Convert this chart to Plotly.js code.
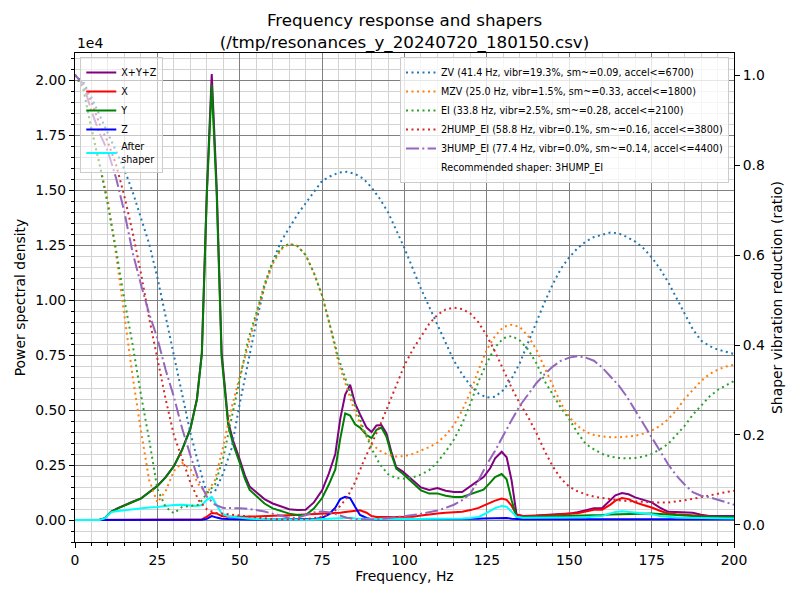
<!DOCTYPE html>
<html><head><meta charset="utf-8">
<script src="https://cdn.plot.ly/plotly-3.0.1.min.js"></script>
<style>body{margin:0;background:#fff}</style>
</head><body><div id="chart" style="width:800px;height:600px"></div>
<script>
// ---- PSD data (left axis) ----
const psdFreqs = [0,2.5,5,7.5, 9,11,13,15, 17.5,20,22.5,25, 27.5,30,32.5,35, 37,38.5,40,41.5, 43,44.5,46.5,48, 50,51.5,53,55, 57.5,60,62.5,65, 67.5,70,72.5,75, 77,79,80.5,82, 83.5,85,86.5,88.5, 90,91.5,93,94.5, 96,97.5,99.5,102.5, 105,107.5,110,112.5, 115,117.5,120,122.5, 124,126,127.5,129.5, 131,132.5,134,136, 140,145,150,152.5, 155,157.5,160,162.5, 164,166,168,170, 172.5,175,177.5,180, 182.5,185,187.5,190, 192.5,195,197.5,200];
const psdSum = [0,0,0,10, 80,380,540,680, 830,980,1250,1550, 1950,2450,3200,4150, 5500,7600,14900,20270, 15150,7600,4450,3600, 2750,2050,1520,1250, 950,750,620,490, 460,470,800,1350, 2100,3000,4600,5700, 6150,5300,4800,4200, 4000,4300,4320,3950, 3100,2400,2200,1820, 1480,1370,1450,1330, 1270,1270,1550,1800, 1950,2350,2800,3100, 2850,1800,250,180, 200,240,290,350, 440,530,550,900, 1120,1230,1170,1030, 920,800,560,370, 360,360,330,240, 180,180,180,180];
const psdX = [0,0,0,0, 2,5,6,6, 6,6,7,8, 8,8,8,10, 15,30,150,320, 300,180,150,140, 140,150,155,160, 175,190,200,220, 235,260,275,290, 300,320,335,360, 380,420,440,330, 180,140,140,140, 140,140,140,145, 200,260,300,330, 350,380,450,550, 650,800,880,980, 920,650,230,170, 190,230,280,310, 380,470,470,700, 880,1000,950,800, 680,570,420,300, 260,235,210,180, 150,140,140,140];
const psdY = [0,0,0,10, 75,370,530,670, 820,970,1240,1540, 1940,2440,3190,4130, 5470,7560,14750,19800, 14800,7400,4300,3450, 2600,1900,1370,1080, 750,530,400,290, 230,230,520,1000, 1600,2300,3700,4850, 4750,4350,4200,3860, 3720,4100,4200,3800, 3000,2330,2100,1700, 1350,1200,1210,1100, 1050,1050,1180,1300, 1380,1700,1950,2090, 1850,900,150,140, 150,160,180,190, 210,220,230,250, 260,270,280,290, 300,300,270,240, 210,190,180,160, 150,140,140,140];
const psdZ = [0,0,0,0, 2,3,3,3, 3,3,3,3, 3,3,3,3, 5,10,50,180, 110,60,40,30, 25,20,20,20, 20,20,20,20, 25,30,40,100, 250,560,950,1060, 1000,600,230,90, 40,30,30,30, 30,30,30,30, 30,40,40,40, 40,40,50,60, 70,80,90,100, 90,60,40,30, 30,30,30,30, 30,30,30,30, 30,30,30,30, 30,30,30,30, 30,30,30,30, 30,30,30,30];
const psdAfter = [0,0,0,5, 70,360,410,450, 500,545,570,590, 640,680,690,650, 640,680,920,1050, 640,300,170,140, 110,80,60,50, 40,30,20,15, 10,10,20,40, 60,80,100,110, 100,70,60,50, 48,50,55,60, 50,45,45,40, 40,45,50,55, 60,70,90,140, 250,420,540,640, 600,380,150,100, 100,100,110,120, 130,160,180,300, 360,400,370,320, 290,260,180,140, 110,100,90,80, 70,70,70,70];

// ---- Shaper responses (right axis) ----
const shaperFreqs = [0,2.5,5,7.5,10,12.5,15,17.5,20,22.5,25,27.5,30,32.5,35,37.5,40,42.5,45,47.5,50,52.5,55,57.5,60,62.5,65,67.5,70,72.5,75,77.5,80,82.5,85,87.5,90,92.5,95,97.5,100,102.5,105,107.5,110,112.5,115,117.5,120,122.5,125,127.5,130,132.5,135,137.5,140,142.5,145,147.5,150,152.5,155,157.5,160,162.5,165,167.5,170,172.5,175,177.5,180,182.5,185,187.5,190,192.5,195,197.5,200];
const zvVals = [1.0,0.985,0.95,0.91,0.87,0.83,0.79,0.74,0.685,0.625,0.55,0.465,0.375,0.29,0.205,0.135,0.07,0.075,0.115,0.17,0.27,0.36,0.45,0.53,0.585,0.63,0.66,0.69,0.715,0.74,0.765,0.775,0.783,0.785,0.78,0.77,0.75,0.725,0.695,0.655,0.615,0.57,0.525,0.485,0.445,0.405,0.365,0.335,0.31,0.292,0.283,0.285,0.3,0.325,0.36,0.405,0.45,0.495,0.535,0.57,0.595,0.615,0.63,0.64,0.645,0.65,0.648,0.64,0.63,0.615,0.595,0.57,0.54,0.505,0.47,0.435,0.41,0.398,0.39,0.385,0.38];
const mzvVals = [1.0,0.97,0.88,0.8,0.72,0.6,0.46,0.33,0.21,0.1,0.05,0.075,0.12,0.138,0.125,0.09,0.07,0.1,0.175,0.26,0.33,0.4,0.465,0.53,0.58,0.612,0.625,0.62,0.6,0.56,0.51,0.44,0.36,0.305,0.25,0.21,0.18,0.165,0.156,0.152,0.153,0.158,0.165,0.173,0.183,0.2,0.222,0.255,0.295,0.345,0.39,0.42,0.44,0.445,0.44,0.42,0.39,0.35,0.31,0.27,0.24,0.22,0.207,0.2,0.197,0.195,0.195,0.196,0.198,0.203,0.21,0.22,0.235,0.255,0.28,0.3,0.32,0.335,0.345,0.352,0.356];
const eiVals = [1.0,0.97,0.88,0.8,0.71,0.61,0.5,0.4,0.29,0.19,0.08,0.04,0.026,0.04,0.042,0.045,0.07,0.09,0.15,0.235,0.32,0.41,0.47,0.535,0.585,0.615,0.625,0.62,0.6,0.56,0.51,0.44,0.37,0.316,0.265,0.215,0.17,0.135,0.113,0.104,0.103,0.106,0.112,0.122,0.14,0.163,0.19,0.225,0.27,0.32,0.36,0.395,0.415,0.42,0.41,0.39,0.36,0.32,0.29,0.26,0.235,0.205,0.18,0.168,0.158,0.152,0.149,0.148,0.149,0.152,0.158,0.168,0.18,0.2,0.22,0.245,0.265,0.285,0.3,0.31,0.32];
const hump2Vals = [1.0,0.98,0.94,0.89,0.85,0.8,0.73,0.65,0.56,0.46,0.37,0.28,0.2,0.145,0.095,0.055,0.035,0.027,0.025,0.022,0.02,0.018,0.016,0.014,0.013,0.012,0.012,0.012,0.013,0.015,0.018,0.025,0.038,0.06,0.095,0.14,0.18,0.22,0.265,0.31,0.355,0.39,0.42,0.447,0.467,0.479,0.483,0.48,0.47,0.45,0.42,0.385,0.345,0.305,0.27,0.24,0.205,0.165,0.13,0.103,0.085,0.075,0.068,0.063,0.06,0.057,0.055,0.053,0.052,0.051,0.05,0.05,0.05,0.052,0.055,0.058,0.062,0.066,0.07,0.073,0.076];
const hump3Vals = [1.0,0.98,0.92,0.87,0.83,0.77,0.695,0.605,0.535,0.47,0.415,0.345,0.285,0.215,0.155,0.1,0.063,0.045,0.038,0.038,0.037,0.036,0.033,0.03,0.025,0.02,0.016,0.016,0.022,0.028,0.03,0.028,0.022,0.016,0.013,0.012,0.012,0.013,0.015,0.017,0.02,0.022,0.025,0.028,0.032,0.038,0.045,0.055,0.07,0.1,0.135,0.165,0.2,0.233,0.265,0.29,0.315,0.335,0.352,0.365,0.372,0.375,0.372,0.365,0.35,0.33,0.31,0.285,0.255,0.225,0.195,0.165,0.135,0.11,0.09,0.073,0.065,0.062,0.056,0.05,0.045];

const shaperNames = ['ZV (41.4 Hz, vibr=19.3%, sm~=0.09, accel<=6700)','MZV (25.0 Hz, vibr=1.5%, sm~=0.33, accel<=1800)','EI (33.8 Hz, vibr=2.5%, sm~=0.28, accel<=2100)','2HUMP_EI (58.8 Hz, vibr=0.1%, sm~=0.16, accel<=3800)','3HUMP_EI (77.4 Hz, vibr=0.0%, sm~=0.14, accel<=4400)'];
const recommendedText = 'Recommended shaper: 3HUMP_EI';
const yTickVals = [0,2500,5000,7500,10000,12500,15000,17500,20000];
const yTickText = ['0.00','0.25','0.50','0.75','1.00','1.25','1.50','1.75','2.00'];
const y2TickVals = [0,0.2,0.4,0.6,0.8,1.0];
const y2TickText = ['0.0','0.2','0.4','0.6','0.8','1.0'];
const xTickVals = [0,25,50,75,100,125,150,175,200];

const FONT = 'DejaVu Sans, sans-serif';
const dotted = '2px,3.5px';
const dashdot = '13px,3.3px,2px,3.3px';

const traces = [
  {x: psdFreqs, y: psdSum, name: 'X+Y+Z', mode: 'lines', line: {color: 'purple', width: 2}, legend: 'legend'},
  {x: psdFreqs, y: psdX, name: 'X', mode: 'lines', line: {color: 'red', width: 2}, legend: 'legend'},
  {x: psdFreqs, y: psdY, name: 'Y', mode: 'lines', line: {color: 'green', width: 2}, legend: 'legend'},
  {x: psdFreqs, y: psdZ, name: 'Z', mode: 'lines', line: {color: 'blue', width: 2}, legend: 'legend'},
  {x: psdFreqs, y: psdAfter, name: 'After<br>shaper', mode: 'lines', line: {color: 'cyan', width: 2}, legend: 'legend'},
  {x: shaperFreqs, y: zvVals, name: shaperNames[0], mode: 'lines', yaxis: 'y2', line: {color: '#1f77b4', width: 2, dash: dotted}, legend: 'legend2'},
  {x: shaperFreqs, y: mzvVals, name: shaperNames[1], mode: 'lines', yaxis: 'y2', line: {color: '#ff7f0e', width: 2, dash: dotted}, legend: 'legend2'},
  {x: shaperFreqs, y: eiVals, name: shaperNames[2], mode: 'lines', yaxis: 'y2', line: {color: '#2ca02c', width: 2, dash: dotted}, legend: 'legend2'},
  {x: shaperFreqs, y: hump2Vals, name: shaperNames[3], mode: 'lines', yaxis: 'y2', line: {color: '#d62728', width: 2, dash: dotted}, legend: 'legend2'},
  {x: shaperFreqs, y: hump3Vals, name: shaperNames[4], mode: 'lines', yaxis: 'y2', line: {color: '#9467bd', width: 2, dash: dashdot}, legend: 'legend2'},
  {x: [null], y: [null], name: recommendedText, mode: 'lines', yaxis: 'y2', line: {color: 'rgba(0,0,0,0)', width: 0}, legend: 'legend2'}
];

const layout = {
  width: 800, height: 600,
  paper_bgcolor: 'white', plot_bgcolor: 'white',
  margin: {l: 75, r: 66, t: 53, b: 58, pad: 0},
  font: {family: FONT, size: 13.9, color: 'black'},
  title: {text: 'Frequency response and shapers<br>(/tmp/resonances_y_20240720_180150.csv)', font: {family: FONT, size: 16.7, color: 'black'}, x: 0.5, xref: 'paper', y: 0.957, yref: 'container', yanchor: 'top'},
  showlegend: true,
  xaxis: {range: [0, 200], tickmode: 'array', tickvals: xTickVals, ticks: 'outside', ticklen: 5, tickwidth: 1, tickcolor: 'black',
    showgrid: true, gridcolor: '#808080', gridwidth: 1, zeroline: false, showline: true, linecolor: 'black', linewidth: 1, mirror: true,
    title: {text: 'Frequency, Hz', font: {size: 13.9}, standoff: 4},
    minor: {tickmode: 'linear', tick0: 0, dtick: 5, showgrid: true, gridcolor: '#d3d3d3', gridwidth: 1, ticks: 'outside', ticklen: 3, tickcolor: 'black'}},
  yaxis: {range: [-1000, 21230], tickmode: 'array', tickvals: yTickVals, ticktext: yTickText, ticks: 'outside', ticklen: 5, tickwidth: 1, tickcolor: 'black',
    showgrid: true, gridcolor: '#808080', gridwidth: 1, zeroline: false, showline: true, linecolor: 'black', linewidth: 1,
    title: {text: 'Power spectral density', font: {size: 13.9}, standoff: 6},
    minor: {tickmode: 'linear', tick0: 0, dtick: 500, showgrid: true, gridcolor: '#d3d3d3', gridwidth: 1, ticks: 'outside', ticklen: 3, tickcolor: 'black'}},
  yaxis2: {overlaying: 'y', side: 'right', range: [-0.0378, 1.0489], tickmode: 'array', tickvals: y2TickVals, ticktext: y2TickText,
    ticks: 'outside', ticklen: 5, tickwidth: 1, tickcolor: 'black', showgrid: false, zeroline: false, showline: true, linecolor: 'black', linewidth: 1,
    title: {text: 'Shaper vibration reduction (ratio)', font: {size: 13.9}, standoff: 8}},
  legend: {x: 0.008, y: 0.992, xanchor: 'left', yanchor: 'top', bgcolor: 'rgba(255,255,255,0.55)', bordercolor: '#cccccc', borderwidth: 1,
    font: {family: FONT, size: 9.6, color: 'black'}, tracegroupgap: 0, itemwidth: 30},
  legend2: {x: 0.9924, y: 0.992, xanchor: 'right', yanchor: 'top', bgcolor: 'rgba(255,255,255,0.8)', bordercolor: '#cccccc', borderwidth: 1,
    font: {family: FONT, size: 9.6, color: 'black'}, tracegroupgap: 0, itemwidth: 30},
  annotations: [{text: '1e4', xref: 'paper', yref: 'paper', x: 0, y: 1, xanchor: 'left', yanchor: 'bottom', showarrow: false, font: {family: FONT, size: 13.9, color: 'black'}, yshift: 0}]
};

Plotly.newPlot('chart', traces, layout, {staticPlot: true, displayModeBar: false});
</script>
</body></html>
